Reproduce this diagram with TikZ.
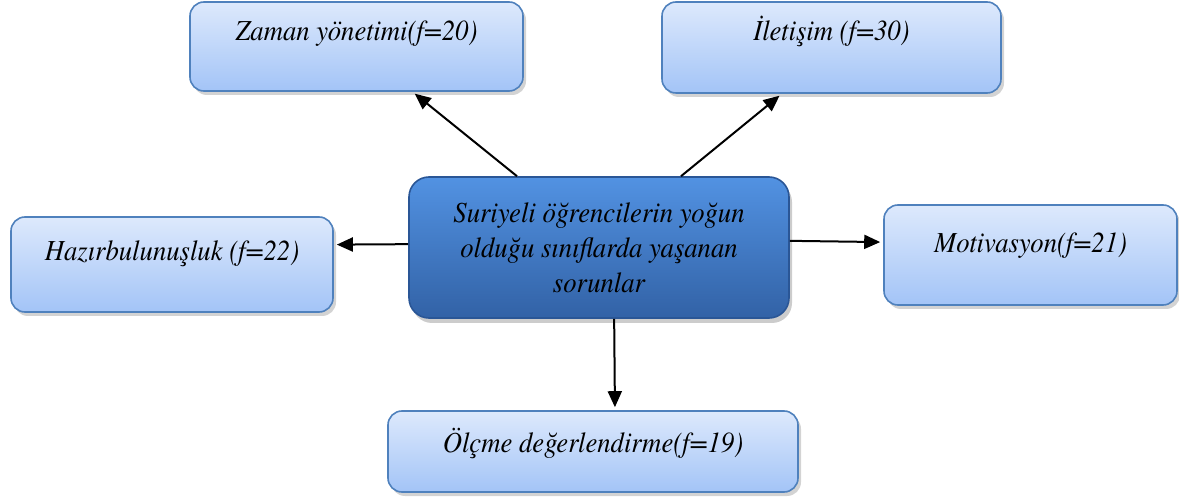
\documentclass[tikz,border=0pt]{standalone}
\usepackage{fontspec}
\setmainfont{texgyretermes-regular.otf}[
  ItalicFont=texgyretermes-italic.otf,
  BoldFont=texgyretermes-bold.otf,
  FakeStretch=0.92]
\usetikzlibrary{arrows.meta,shadows}

\definecolor{boxtop}{RGB}{221,233,252}
\definecolor{boxbot}{RGB}{163,196,247}
\definecolor{boxline}{RGB}{79,129,189}
\definecolor{hubtop}{RGB}{82,146,226}
\definecolor{hubmid}{RGB}{66,124,204}
\definecolor{hubbot}{RGB}{50,98,166}
\definecolor{hubline}{RGB}{42,86,150}

\tikzset{
  leaf/.style={draw=boxline, line width=0.8pt, rounded corners=7pt,
    top color=boxtop, bottom color=boxbot, inner sep=0pt,
    font=\itshape\fontsize{14.5}{17.5}\selectfont,
    drop shadow={opacity=0.35, shadow xshift=1.5pt, shadow yshift=-2pt}},
  hub/.style={draw=hubline, line width=0.8pt, rounded corners=10pt,
    top color=hubtop, middle color=hubmid, bottom color=hubbot,
    inner sep=0pt, align=center,
    font=\itshape\fontsize{14.5}{17.5}\selectfont,
    drop shadow={opacity=0.4, shadow xshift=1.5pt, shadow yshift=-2.5pt}},
  link/.style={-{Triangle[length=8pt,width=7pt]}, line width=1pt, shorten >=1.5pt}
}

\begin{document}
\begin{tikzpicture}[x=0.5pt, y=-0.5pt]
\useasboundingbox (0,0) rectangle (1179,497);

% centre
\node[hub, minimum width=190pt, minimum height=70.5pt] (sorun) at (599,247.5)
  {Suriyeli öğrencilerin yoğun\\ olduğu sınıflarda yaşanan\\ sorunlar};

% leaves
\node[leaf, minimum width=166.5pt, minimum height=44.5pt, text height=19.5pt, text depth=25pt]
  (zaman) at (356.5,46.5) {Zaman yönetimi(f=20)};
\node[leaf, minimum width=169.5pt, minimum height=45.5pt, text height=19.5pt, text depth=26pt]
  (iletisim) at (831.5,47.5) {İletişim (f=30)};
\node[leaf, minimum width=161pt, minimum height=47.5pt, text height=22pt, text depth=25.5pt]
  (hazir) at (172,264.5) {Hazırbulunuşluk (f=22)};
\node[leaf, minimum width=146.5pt, minimum height=50pt, text height=24pt, text depth=26pt]
  (motiv) at (1030.5,255) {Motivasyon(f=21)};
\node[leaf, minimum width=205pt, minimum height=40.5pt, text height=20.5pt, text depth=20pt]
  (olcme) at (593,451.5) {Ölçme değerlendirme(f=19)};

% arrows
\draw[link] (sorun.139.7) -- (zaman.-39.75);
\draw[link] (sorun.41.4) -- (iletisim.223.2);
\draw[link] (sorun.179.5) -- (hazir.7.96);
\draw[link] (sorun.2.26) -- (motiv.175.3);
\draw[link] (sorun.-78) -- (olcme.62.6);

\end{tikzpicture}
\end{document}
